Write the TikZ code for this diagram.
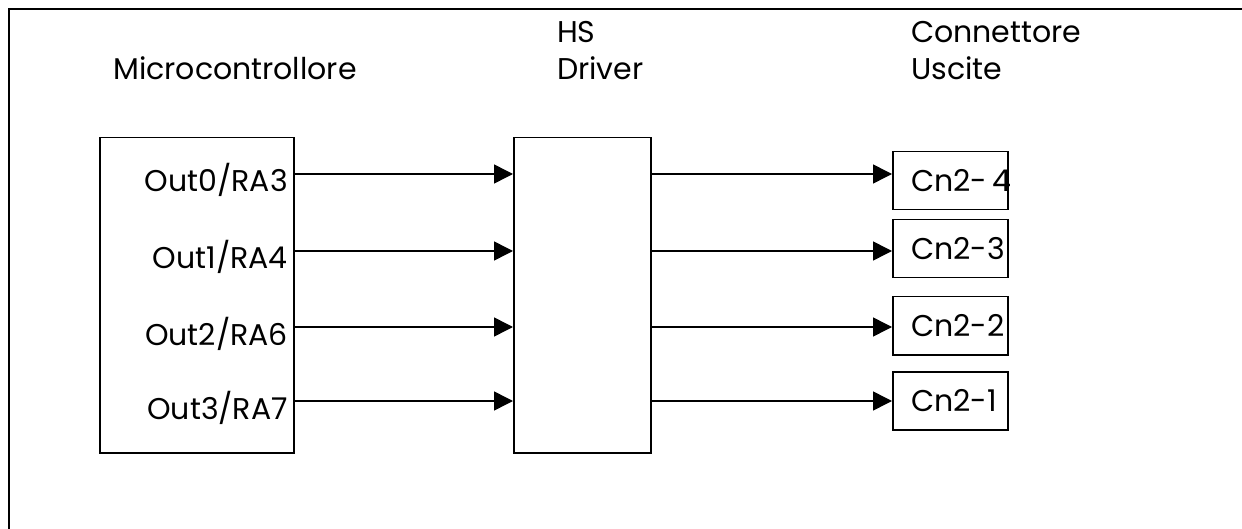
\documentclass[tikz,border=0pt]{standalone}
\usepackage{fontspec}
\setmainfont{Poppins}
\usetikzlibrary{arrows.meta}
\begin{document}
\begin{tikzpicture}[x=1pt,y=-1pt,
  frame/.style={line width=2.3pt},
  block/.style={draw, line width=1.5pt, inner sep=0pt, anchor=north west},
  sig/.style={line width=1.5pt, -{Triangle[length=19pt,width=19pt]}},
  lbl/.style={inner sep=0pt, font=\fontsize{30}{37}\selectfont},
  pin/.style={inner sep=0pt, font=\fontsize{30}{37}\selectfont, anchor=base east},
]
\useasboundingbox (0,0) rectangle (1242,529);
\clip (0,0) rectangle (1242,529);
% outer frame (only its top and left edges fall inside the page)
\draw[frame] (9,560) -- (9,9) -- (1260,9);

% headings
\node[lbl, anchor=base west] (tmcu) at (113,80) {Microcontrollore};
\node[lbl, anchor=base west, align=left] (tdrv) at (557,80) {HS\\Driver};
\node[lbl, anchor=base west, align=left] (tcon) at (911,80) {Connettore\\Uscite};

% main blocks
\node[block, minimum width=194pt, minimum height=315pt] (mcu) at (99,137) {};
\node[block, minimum width=137pt, minimum height=315pt] (drv) at (513,137) {};

% output connector pins
\node[block, minimum width=115pt, minimum height=58pt] (c4) at (892,151) {};
\node[block, minimum width=115pt, minimum height=58pt] (c3) at (892,219) {};
\node[block, minimum width=115pt, minimum height=58pt] (c2) at (892,296) {};
\node[block, minimum width=115pt, minimum height=58pt] (c1) at (892,371) {};
\node[lbl, anchor=base west] (l4) at (911,192) {Cn2-\,4};
\node[lbl, anchor=base west] (l3) at (911,260) {Cn2-3};
\node[lbl, anchor=base west] (l2) at (911,336) {Cn2-2};
\node[lbl, anchor=base west] (l1) at (911,411) {Cn2-1};

% microcontroller port labels
\node[pin] (p0) at (288,192) {Out0/RA3};
\node[pin] (p1) at (288,269) {Out1/RA4};
\node[pin] (p2) at (288,345) {Out2/RA6};
\node[pin] (p3) at (288,419) {Out3/RA7};

% signal rows
\coordinate (r0) at (0,174);
\coordinate (r1) at (0,251);
\coordinate (r2) at (0,327);
\coordinate (r3) at (0,401);

\draw[sig] (mcu.east |- r0) -- (drv.west |- r0);
\draw[sig] (mcu.east |- r1) -- (drv.west |- r1);
\draw[sig] (mcu.east |- r2) -- (drv.west |- r2);
\draw[sig] (mcu.east |- r3) -- (drv.west |- r3);

\draw[sig] (drv.east |- r0) -- (c4.west |- r0);
\draw[sig] (drv.east |- r1) -- (c3.west |- r1);
\draw[sig] (drv.east |- r2) -- (c2.west |- r2);
\draw[sig] (drv.east |- r3) -- (c1.west |- r3);
\end{tikzpicture}
\end{document}
